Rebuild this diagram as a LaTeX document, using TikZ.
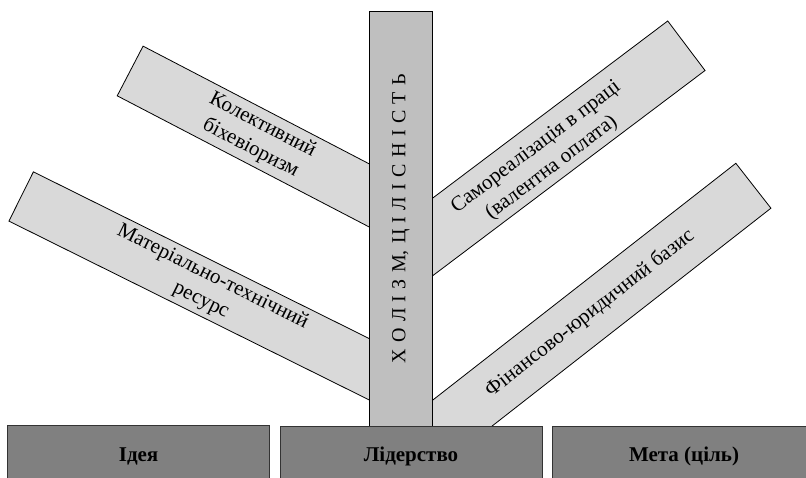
\documentclass[tikz,border=0pt]{standalone}
\usepackage{fontspec}
\setmainfont{Liberation Serif}
\newfontfamily\tnr{Liberation Serif}
\definecolor{bandgray}{HTML}{D9D9D9}
\definecolor{bargray}{HTML}{BFBFBF}
\definecolor{boxgray}{HTML}{808080}
\newcommand\gapp{\hspace{6.3pt}}
\begin{document}
\begin{tikzpicture}[x=1pt,y=-1pt,
  bandbox/.style={draw=black, line width=0.8pt, fill=bandgray, inner sep=0pt},
  bandtext/.style={font=\tnr\fontsize{21}{26}\selectfont, align=center, inner sep=0pt},
  barbox/.style={draw=black, line width=0.8pt, fill=bargray, inner sep=0pt,
    font=\tnr\fontsize{20}{22}\selectfont},
  basebox/.style={draw=black!80, line width=0.8pt, fill=boxgray, inner sep=0pt,
    font=\tnr\fontsize{21}{24}\selectfont\bfseries}]
\useasboundingbox (0,0) rectangle (806,478);
% bands
\node[bandbox, anchor=west, rotate=-27.5, minimum width=305pt, minimum height=56pt] (b1) at (129.8,70.8) {};
\node[bandbox, anchor=west, rotate=-26.4, minimum width=424pt, minimum height=55pt] (b2) at (20.8,196.3) {};
\node[bandbox, anchor=east, rotate=37, minimum width=358pt, minimum height=62pt] (b3) at (686.7,45.5) {};
\node[bandbox, anchor=east, rotate=38, minimum width=450pt, minimum height=57pt] (b4) at (753.7,185.5) {};
% band texts
\node[bandtext, rotate=-27.5] (t1) at (256.6,136.9) {Колективний\\біхевіоризм};
\node[bandtext, rotate=-26.4] (t2) at (206.8,288.7) {Матеріально-технічний\\ресурс};
\node[bandtext, rotate=37] (t3) at (544,157.8) {Самореалізація в праці\\(валентна оплата)};
\node[bandtext, rotate=38] (t4) at (590,313.4) {Фінансово-юридичний базис};
% central bar
\node[barbox, rotate=90, minimum width=415.7pt, minimum height=63.7pt] (bar) at (400.85,218.85)
  {Х\gapp О\gapp Л\gapp І\gapp З\gapp М,\gapp Ц\gapp І\gapp Л\gapp І\gapp С\gapp Н\gapp І\gapp С\gapp Т\gapp Ь};
% base boxes
\node[basebox, minimum width=261.8pt, minimum height=63.4pt] (idea) at (138.6,456.7) {Ідея};
\node[basebox, minimum width=262pt, minimum height=60pt] (lead) at (411,456.7) {Лідерство};
\node[basebox, minimum width=264pt, minimum height=60pt] (goal) at (684,456.7) {Мета (ціль)};
\end{tikzpicture}
\end{document}
